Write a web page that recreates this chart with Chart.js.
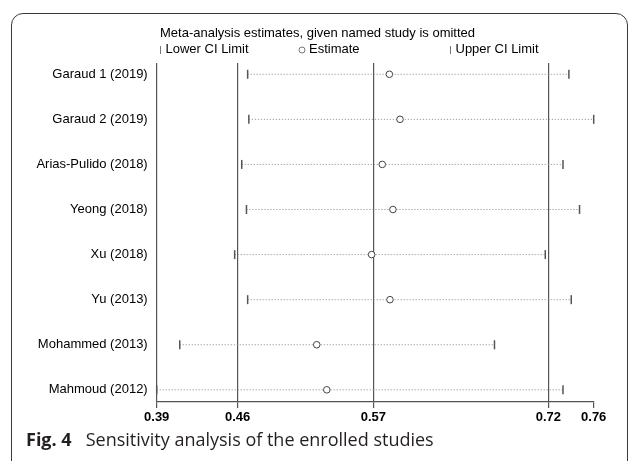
<!DOCTYPE html>
<html><head><meta charset="utf-8">
<script src="https://cdn.jsdelivr.net/npm/chart.js@4.4.1/dist/chart.umd.min.js"></script>
<style>
html,body{margin:0;padding:0;background:#fff;}
#wrap{position:relative;width:630px;height:461px;overflow:hidden;background:#fff;}
#frame{position:absolute;left:11px;top:13px;width:617px;height:460px;border:1.5px solid #3a3a3a;border-radius:12px;box-sizing:border-box;}
#cv{position:absolute;left:0;top:0;}
#cap{position:absolute;left:26px;top:427px;font-family:"Open Sans";font-size:18px;color:#231f20;white-space:nowrap;line-height:24px;}
#cap b{font-weight:700;margin-right:14px;}
</style></head>
<body><div id="wrap"><div id="frame"></div><canvas id="cv" width="630" height="461"></canvas><div id="cap"><b>Fig. 4</b>Sensitivity analysis of the enrolled studies</div></div>
<script>
const studies = ["Garaud 1 (2019)","Garaud 2 (2019)","Arias-Pulido (2018)","Yeong (2018)","Xu (2018)","Yu (2013)","Mohammed (2013)","Mahmoud (2012)"];
const lowerCI = [0.467,0.468,0.462,0.466,0.456,0.467,0.4095,0.39];
const estimate = [0.587,0.596,0.581,0.590,0.572,0.5875,0.5255,0.534];
const upperCI = [0.739,0.760,0.734,0.748,0.719,0.741,0.676,0.734];
const tickValues = [0.39,0.4585,0.5735,0.7216,0.76];
const tickLabels = ["0.39","0.46","0.57","0.72","0.76"];
const titleText = "Meta-analysis estimates, given named study is omitted";
const legendLabels = ["Lower CI Limit","Estimate","Upper CI Limit"];

const FONT = '"Liberation Sans", Arial, sans-serif';
const datasets = [];
datasets.push({
  label: legendLabels[1], type:'scatter', order:0, clip:false,
  data: estimate.map((v,i)=>({x:v,y:i})),
  pointStyle:'circle', pointRadius:3.3, borderColor:'#444', backgroundColor:'#fff', borderWidth:1
});
datasets.push({
  label: legendLabels[0], type:'scatter', order:1, clip:false,
  data: lowerCI.map((v,i)=>({x:v,y:i})),
  pointStyle:'line', rotation:90, pointRadius:4.5, borderColor:'#555', borderWidth:1.5
});
datasets.push({
  label: legendLabels[2], type:'scatter', order:1, clip:false,
  data: upperCI.map((v,i)=>({x:v,y:i})),
  pointStyle:'line', rotation:90, pointRadius:4.5, borderColor:'#555', borderWidth:1.5
});
studies.forEach((s,i)=>{
  datasets.push({
    label: s, type:'scatter', order:2, showLine:true, clip:false,
    data:[{x:lowerCI[i],y:i},{x:upperCI[i],y:i}],
    borderColor:'#888', borderWidth:1, borderDash:[1,2], pointRadius:0
  });
});

const legendPlugin = {
  id:'stataLegend',
  afterDraw(chart){
    const c = chart.ctx;
    c.save();
    c.fillStyle = '#000';
    c.font = '13px ' + FONT;
    c.textBaseline = 'middle';
    c.textAlign = 'left';
    c.fillText(titleText, 160, 33);
    const ly = 49;
    c.strokeStyle = '#777'; c.lineWidth = 1;
    c.beginPath(); c.moveTo(160.5, ly-3); c.lineTo(160.5, ly+5); c.stroke();
    c.fillText(legendLabels[0], 165.5, ly);
    c.beginPath(); c.arc(302, ly+1, 3, 0, Math.PI*2); c.stroke();
    c.fillText(legendLabels[1], 309, ly);
    c.beginPath(); c.moveTo(450.5, ly-3); c.lineTo(450.5, ly+5); c.stroke();
    c.fillText(legendLabels[2], 455.5, ly);
    c.restore();
  }
};

new Chart(document.getElementById('cv'), {
  type:'scatter',
  data:{datasets},
  options:{
    responsive:false, animation:false, devicePixelRatio:1,
    layout:{padding:{top:63,right:36.3,bottom:0,left:0}},
    plugins:{legend:{display:false},tooltip:{enabled:false},title:{display:false}},
    scales:{
      x:{type:'linear',min:0.39,max:0.76,
        afterBuildTicks:s=>{s.ticks = tickValues.map(v=>({value:v}));},
        ticks:{autoSkip:false,maxRotation:0,minRotation:0,callback:(v,i)=>tickLabels[i],
          font:{family:FONT,size:13,weight:'bold'},color:'#000',padding:2},
        grid:{color:ctx=>ctx.index===4?'rgba(0,0,0,0)':'#555',lineWidth:1.2,tickLength:6,tickColor:'#555',tickWidth:1.2,drawOnChartArea:true},
        border:{display:true,color:'#555',width:1.2},
        afterFit:s=>{s.height=59;}
      },
      y:{type:'linear',reverse:true,min:-0.25,max:7.27,
        afterBuildTicks:s=>{s.ticks = studies.map((_,i)=>({value:i}));},
        ticks:{autoSkip:false,callback:(v,i)=>studies[i],font:{family:FONT,size:13},color:'#000',padding:9},
        grid:{display:false,drawTicks:false},border:{display:false},
        afterFit:s=>{s.width=156.7;}
      }
    }
  },
  plugins:[legendPlugin]
});
</script>
</body></html>
